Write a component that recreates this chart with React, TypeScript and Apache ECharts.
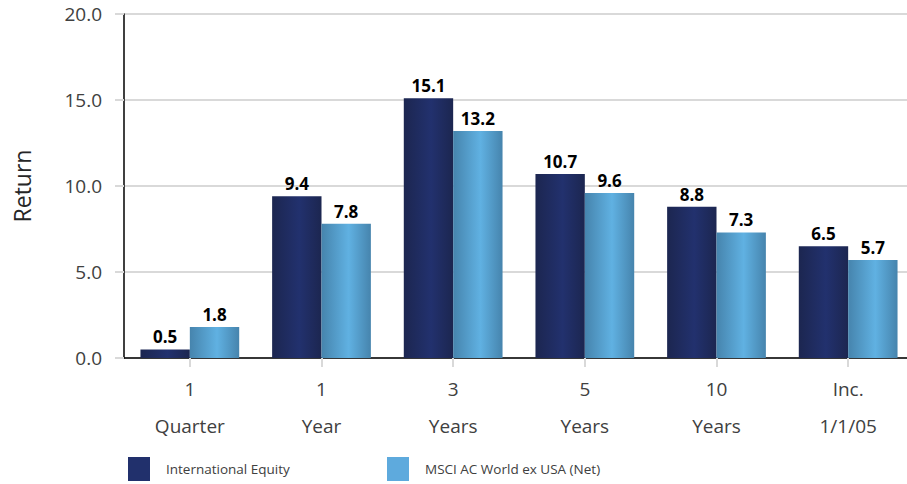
import React, { useEffect, useRef } from "react";
import * as echarts from "echarts";

const categories = ["1\nQuarter", "1\nYear", "3\nYears", "5\nYears", "10\nYears", "Inc.\n1/1/05"];
const intlEquity = [0.5, 9.4, 15.1, 10.7, 8.8, 6.5];
const msciAcwx = [1.8, 7.8, 13.2, 9.6, 7.3, 5.7];
const seriesNames = ["International Equity", "MSCI AC World ex USA (Net)"];

const FONT = "'Open Sans', 'Noto Sans', sans-serif";

function grad(edge: string, mid: string) {
  return new echarts.graphic.LinearGradient(0, 0, 1, 0, [
    { offset: 0, color: edge },
    { offset: 0.55, color: mid },
    { offset: 1, color: edge },
  ]);
}

export default function App() {
  const ref = useRef<HTMLDivElement>(null);
  useEffect(() => {
    document.body.style.margin = "0";
    const chart = echarts.init(ref.current!, null, { renderer: "svg" });
    const label = {
      show: true,
      position: "top" as const,
      distance: 4,
      color: "#000",
      fontWeight: "bold" as const,
      fontSize: 17,
      fontFamily: FONT,
      formatter: (p: any) => Number(p.value).toFixed(1),
    };
    const legendBase = {
      top: 452,
      itemWidth: 22,
      itemHeight: 24,
      icon: "rect",
      selectedMode: false,
      textStyle: { fontSize: 13.5, color: "#404040", fontFamily: FONT, padding: [0, 0, 0, 11] },
    };
    chart.setOption({
      animation: false,
      backgroundColor: "#fff",
      grid: { left: 124, width: 790, top: 14, bottom: 126, outerBoundsMode: "none", containLabel: false },
      legend: [
        { ...legendBase, left: 123, data: [{ name: seriesNames[0], itemStyle: { color: "#21306c" } }] },
        { ...legendBase, left: 382, data: [{ name: seriesNames[1], itemStyle: { color: "#5eaadd" } }] },
      ],
      xAxis: {
        type: "category",
        data: categories,
        axisLine: { show: true, lineStyle: { color: "#000", width: 1.5 } },
        axisTick: { show: true, alignWithLabel: true, length: 9, lineStyle: { color: "#d9d9d9", width: 2 } },
        axisLabel: {
          color: "#404040",
          fontSize: 19,
          fontFamily: FONT,
          lineHeight: 37,
          margin: 12,
          interval: 0,
        },
      },
      yAxis: {
        type: "value",
        min: 0,
        max: 20,
        interval: 5,
        name: "Return",
        nameLocation: "middle",
        nameGap: 91,
        nameTextStyle: { fontSize: 23, color: "#262626", fontFamily: FONT },
        axisLine: { show: true, lineStyle: { color: "#000", width: 1.5 } },
        axisTick: { show: true, length: 9, lineStyle: { color: "#d9d9d9", width: 2 } },
        splitLine: { show: true, lineStyle: { color: "#d9d9d9", width: 2 } },
        axisLabel: {
          color: "#404040",
          fontSize: 19,
          fontFamily: FONT,
          margin: 22,
          formatter: (v: number) => v.toFixed(1),
        },
      },
      series: [
        {
          name: seriesNames[0],
          type: "bar",
          data: intlEquity,
          barGap: "0%",
          barCategoryGap: "25%",
          itemStyle: { color: grad("#1c2650", "#22316e") },
          label,
        },
        {
          name: seriesNames[1],
          type: "bar",
          data: msciAcwx,
          itemStyle: { color: grad("#4684ad", "#60b1e2") },
          label,
        },
      ],
    });
    return () => chart.dispose();
  }, []);
  return <div ref={ref} style={{ width: 907, height: 484, position: "absolute", left: 0, top: 0 }} />;
}
